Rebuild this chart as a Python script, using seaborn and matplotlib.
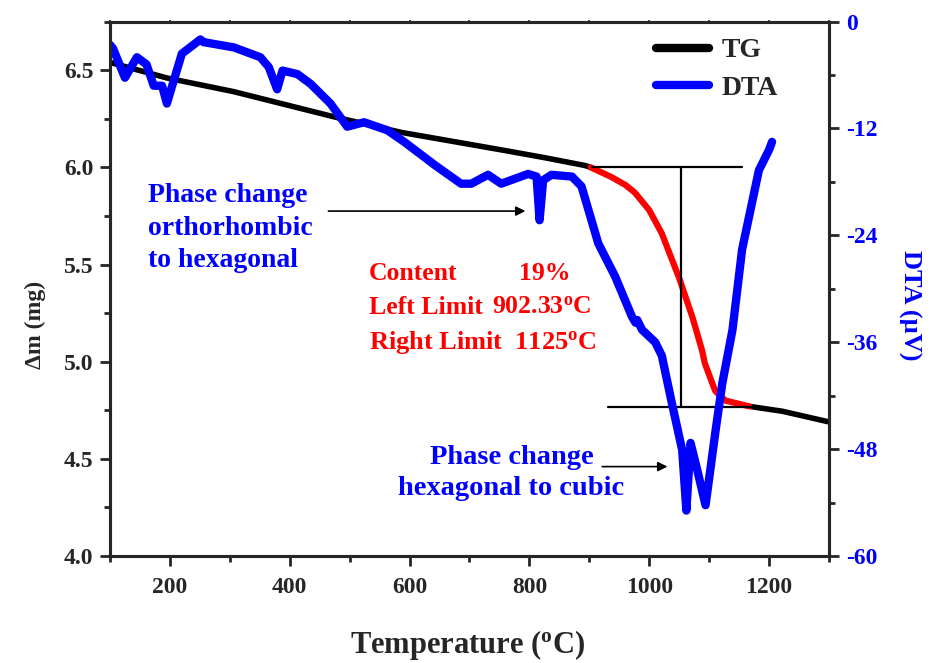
import matplotlib
matplotlib.use("Agg")
import matplotlib.pyplot as plt
from matplotlib.lines import Line2D
from matplotlib.ticker import MultipleLocator
import seaborn as sns
import pandas as pd

# TG curve (mass vs temperature), split at the decomposition limits
tg_temp_pre = [100, 195, 306, 474, 586, 753, 825, 892, 902.33]
tg_mass_pre = [6.54, 6.46, 6.39, 6.26, 6.18, 6.09, 6.05, 6.01, 6.00]
tg_temp_step = [902.33, 937, 960, 976, 1000, 1021, 1050, 1072, 1088, 1093, 1110, 1127, 1167]
tg_mass_step = [6.00, 5.95, 5.91, 5.87, 5.78, 5.66, 5.43, 5.23, 5.06, 4.99, 4.85, 4.80, 4.77]
tg_temp_post = [1167, 1222, 1300]
tg_mass_post = [4.77, 4.745, 4.69]

# DTA signal
dta_temp = [100, 105, 125, 145, 161, 173, 187, 195, 203, 220, 251, 256, 307, 351, 365,
            379, 388, 413, 435, 468, 496, 524, 563, 591, 642, 686, 703, 731, 753,
            798, 812, 817, 823, 837, 871, 887, 915, 943, 971, 977, 980, 988, 1010,
            1021, 1038, 1055, 1062, 1069, 1080, 1094, 1111, 1122, 1139, 1155, 1183,
            1200, 1205]
dta_val = [-2.6, -3.0, -6.3, -4.0, -4.8, -7.2, -7.2, -9.2, -7.4, -3.6, -2.0, -2.3, -2.9,
           -4.0, -5.1, -7.6, -5.5, -5.9, -7.0, -9.2, -11.8, -11.3, -12.2, -13.5, -16.1,
           -18.2, -18.2, -17.2, -18.2, -17.1, -17.4, -22.3, -17.8, -17.2, -17.4, -18.5,
           -24.9, -28.6, -33.1, -33.8, -33.5, -34.6, -36.0, -37.5, -42.9, -48.1, -54.9,
           -47.3, -50.3, -54.3, -45.8, -40.6, -34.6, -25.6, -16.7, -14.4, -13.5]

# Limits of the mass-loss step
left_limit = 902.33
right_limit = 1125
content = 19
mass_upper = 6.003
mass_lower = 4.766

sns.set_style("ticks")
plt.rcParams["font.family"] = ["Liberation Serif", "DejaVu Serif"]
plt.rcParams["font.weight"] = "bold"
plt.rcParams["axes.unicode_minus"] = False
plt.rcParams["mathtext.fontset"] = "custom"
plt.rcParams["mathtext.rm"] = "Liberation Serif:bold"
plt.rcParams["mathtext.bf"] = "Liberation Serif:bold"
plt.rcParams["mathtext.it"] = "Liberation Serif:bold"

BLUE = "#0000ff"
RED = "#ff0000"

fig = plt.figure(figsize=(9.35, 6.63), dpi=100)
ax = fig.add_axes([0.1176, 0.1614, 0.769, 0.806])
ax2 = ax.twinx()

pre = pd.DataFrame({"T": tg_temp_pre, "m": tg_mass_pre})
step = pd.DataFrame({"T": tg_temp_step, "m": tg_mass_step})
post = pd.DataFrame({"T": tg_temp_post, "m": tg_mass_post})
dta = pd.DataFrame({"T": dta_temp, "v": dta_val})

sns.lineplot(data=pre, x="T", y="m", ax=ax, color="black", lw=4, sort=False)
sns.lineplot(data=post, x="T", y="m", ax=ax, color="black", lw=4, sort=False)
sns.lineplot(data=step, x="T", y="m", ax=ax, color=RED, lw=4.5, sort=False)
sns.lineplot(data=dta, x="T", y="v", ax=ax2, color=BLUE, lw=6, sort=False)

# step construction lines
ax.plot([904, 1155], [mass_upper, mass_upper], color="black", lw=1.6)
ax.plot([1053, 1053], [mass_upper, mass_lower], color="black", lw=1.6)
ax.plot([931, 1189], [mass_lower, mass_lower], color="black", lw=1.6)

ax.set_xlim(100, 1300)
ax.set_ylim(4.0, 6.75)
ax2.set_ylim(-60, 0)

ax.xaxis.set_major_locator(MultipleLocator(200))
ax.xaxis.set_minor_locator(MultipleLocator(100))
ax.yaxis.set_major_locator(MultipleLocator(0.5))
ax.yaxis.set_minor_locator(MultipleLocator(0.25))
ax2.yaxis.set_major_locator(MultipleLocator(12))
ax2.yaxis.set_minor_locator(MultipleLocator(6))

for a in (ax, ax2):
    for s in a.spines.values():
        s.set_linewidth(2.2)
        s.set_visible(True)
ax.tick_params(which="major", length=7, width=2, labelsize=17, direction="out")
ax.tick_params(which="minor", length=4.5, width=2, direction="out")
ax.tick_params(axis="y", pad=5)
ax.tick_params(axis="x", pad=8)
ax2.tick_params(which="major", length=7, width=2, labelsize=17, labelcolor=BLUE,
                direction="out", pad=5)
ax2.tick_params(which="minor", length=4.5, width=2, direction="out")
ax.set_yticks([4.0, 4.5, 5.0, 5.5, 6.0, 6.5])
ax.set_yticklabels(["4.0", "4.5", "5.0", "5.5", "6.0", "6.5"])
ax.set_xticks([200, 400, 600, 800, 1000, 1200])
ax.set_xticklabels(["200", "400", "600", "800", "1000", "1200"])
ax2.set_yticks([0, -12, -24, -36, -48, -60])
ax2.set_yticklabels(["0", "-12", "-24", "-36", "-48", "-60"])

top = ax.secondary_xaxis("top")
top.xaxis.set_major_locator(MultipleLocator(100))
top.tick_params(direction="inout", length=3, width=1.2, labeltop=False)

ax.set_xlabel(r"Temperature ($^{\mathrm{o}}$C)", fontsize=22, fontweight="bold",
              va="center")
ax.xaxis.set_label_coords(0.498, -0.166)
ax.set_ylabel("Δm (mg)", fontsize=17, fontweight="bold", va="center")
ax.yaxis.set_label_coords(-0.104, 0.432)
ax2.set_ylabel("DTA (µV)", fontsize=19, fontweight="bold", color=BLUE, rotation=270,
               va="center")
ax2.yaxis.set_label_coords(1.112, 0.47)

# annotations
ax.text(163, 5.687, "Phase change\northorhombic\nto hexagonal", color=BLUE,
        fontsize=20, fontweight="bold", va="center", ha="left", linespacing=1.38)
ax.annotate("", xy=(798, 5.775), xytext=(460, 5.775),
            arrowprops=dict(arrowstyle="-|>", color="black", lw=1.2, mutation_scale=14))
ax.text(770, 4.428, "Phase change\nhexagonal to cubic", color=BLUE,
        fontsize=20.5, fontweight="bold", va="center", ha="center", linespacing=1.33)
ax.annotate("", xy=(1035, 4.46), xytext=(917, 4.46),
            arrowprops=dict(arrowstyle="-|>", color="black", lw=1.2, mutation_scale=14))

ax.text(532, 5.455, "Content", color=RED, fontsize=18.5, fontweight="bold", va="center")
ax.text(783, 5.455, f"{content}%", color=RED, fontsize=18.5, fontweight="bold", va="center")
ax.text(532, 5.28, "Left Limit", color=RED, fontsize=18.5, fontweight="bold", va="center")
ax.text(737, 5.28, f"{left_limit:.2f}" + r"$^{\mathrm{o}}$C", color=RED, fontsize=18.5,
        fontweight="bold", va="center")
ax.text(532, 5.097, "Right Limit  " + f"{right_limit}" + r"$^{\mathrm{o}}$C", color=RED,
        fontsize=19, fontweight="bold", va="center")

handles = [Line2D([], [], color="black", lw=6), Line2D([], [], color=BLUE, lw=6)]
ax.legend(handles, ["TG", "DTA"], loc="upper right", bbox_to_anchor=(0.964, 1.0165),
          frameon=False, prop={"family": "Liberation Serif", "weight": "bold", "size": 20},
          handlelength=1.9, handletextpad=0.45, labelspacing=0.45)

fig.savefig("out.png", dpi=100)
